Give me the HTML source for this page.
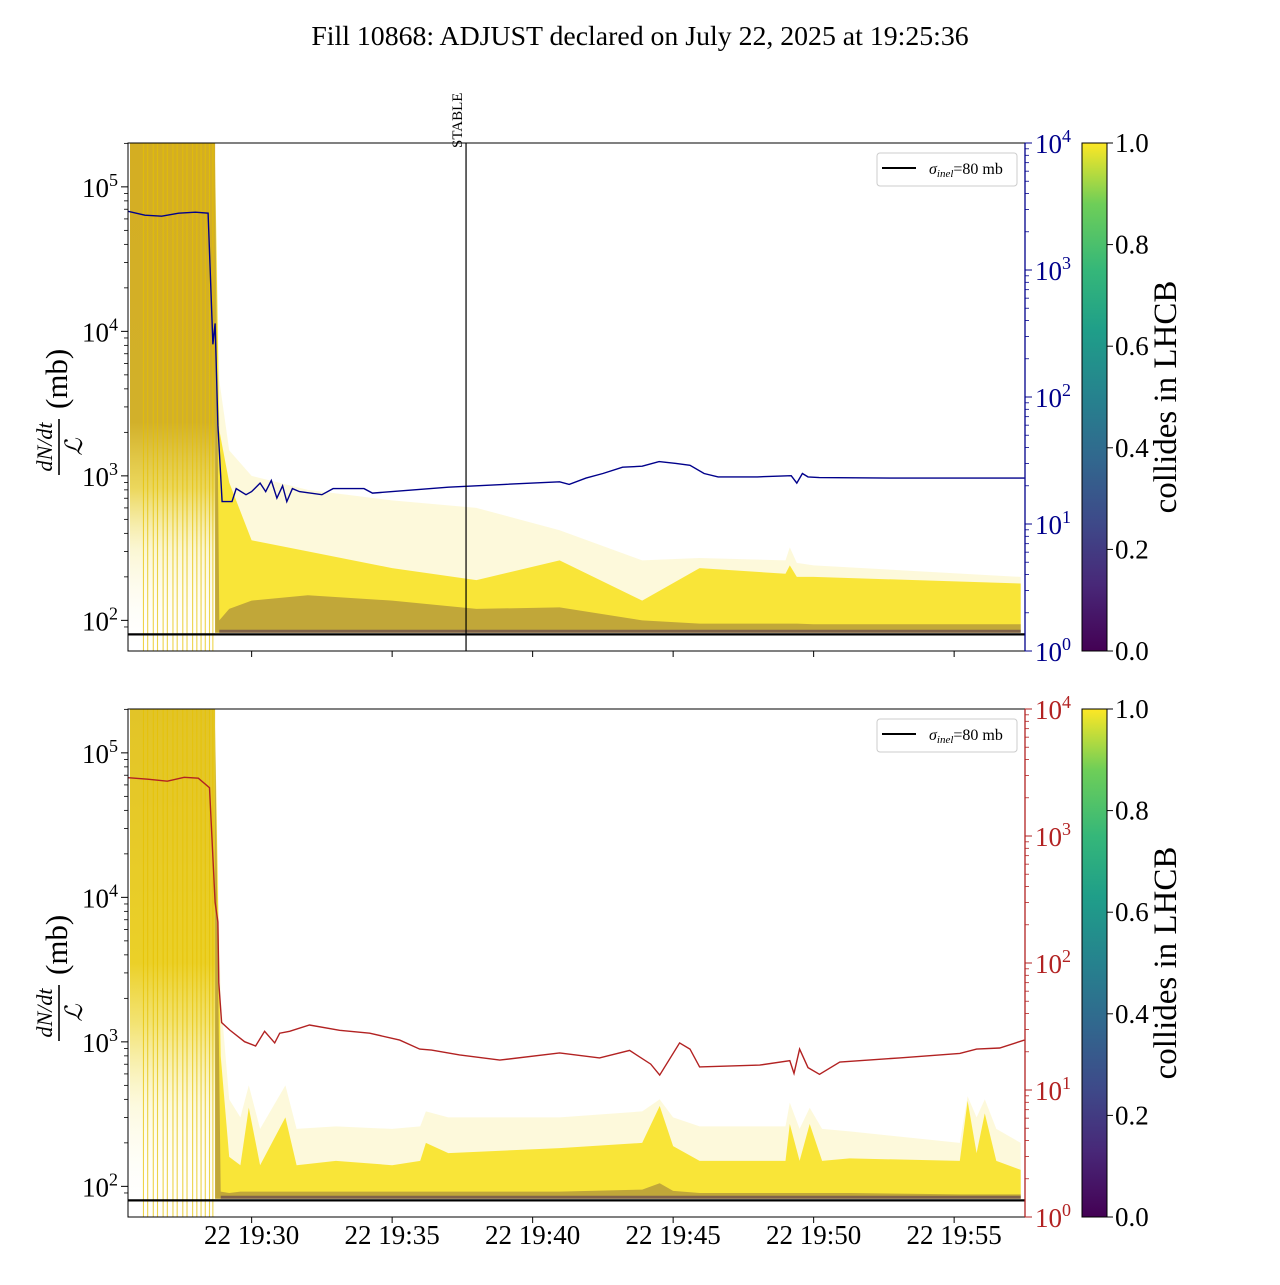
<!DOCTYPE html>
<html><head><meta charset="utf-8"><style>
html,body{margin:0;padding:0;background:#fff}
svg text{font-family:"Liberation Serif",serif}
</style></head><body>
<svg id="chart" width="1280" height="1280" xmlns="http://www.w3.org/2000/svg">
<defs>
<linearGradient id="preTop" x1="0" y1="0" x2="0" y2="1">
<stop offset="0" stop-color="#d4ae22"/><stop offset="0.55" stop-color="#d2b02a"/>
<stop offset="0.68" stop-color="#e8d040" stop-opacity="0.85"/><stop offset="0.8" stop-color="#f3e680" stop-opacity="0.35"/>
<stop offset="1" stop-color="#fff" stop-opacity="0"/></linearGradient>
<linearGradient id="preBot" x1="0" y1="0" x2="0" y2="1">
<stop offset="0" stop-color="#e2c428"/><stop offset="0.5" stop-color="#ebd028"/>
<stop offset="0.62" stop-color="#f0dc50" stop-opacity="0.8"/><stop offset="0.78" stop-color="#f6ec90" stop-opacity="0.3"/>
<stop offset="1" stop-color="#fff" stop-opacity="0"/></linearGradient>
<linearGradient id="viridis" x1="0" y1="1" x2="0" y2="0">
<stop offset="0" stop-color="#440154"/><stop offset="0.13" stop-color="#482878"/><stop offset="0.25" stop-color="#3e4989"/>
<stop offset="0.38" stop-color="#31688e"/><stop offset="0.5" stop-color="#26828e"/><stop offset="0.63" stop-color="#1f9e89"/>
<stop offset="0.75" stop-color="#35b779"/><stop offset="0.88" stop-color="#6ece58"/><stop offset="1" stop-color="#fde725"/></linearGradient>
</defs>
<text x="640" y="45" font-size="27.8" text-anchor="middle">Fill 10868: ADJUST declared on July 22, 2025 at 19:25:36</text>
<g id="p1"></g>
<g id="p2"></g>
</svg>
<script>
// ---- data (time in minutes after 19:00) ----
const blueT=[25.6,26.2,26.8,27.4,28.0,28.45,28.62,28.7,28.8,28.95,29.3,29.45,29.8,30.0,30.3,30.5,30.7,30.9,31.1,31.25,31.45,31.7,32.5,32.9,34.0,34.3,35,37,39,40.96,41.3,41.9,42.5,43.2,43.9,44.5,45.1,45.6,46.1,46.6,48,49.2,49.4,49.6,49.8,50.2,53,57.5];
const blueV=[2900,2700,2650,2800,2850,2800,260,380,60,15,15,19,17,18,21,18,22,16,20,15,19,18,17,19,19,17.5,18,19.5,20.5,21.5,20.5,23,25,28,28.5,31,30,29,25,23.5,23.5,24,21,25,23.5,23.2,23,23];
const redT=[25.6,26.3,27.0,27.6,28.1,28.5,28.7,28.8,28.83,28.93,29.22,29.75,30.14,30.46,30.82,31.0,31.35,32.06,33.13,34.2,35.27,35.98,36.4,37.4,38.83,40.96,42.38,43.45,44.2,44.52,45.23,45.6,45.94,48.08,49.15,49.3,49.5,49.8,50.21,50.93,53.06,55.2,55.8,56.62,57.5];
const redV=[2880,2800,2700,2900,2850,2400,300,210,70,34,29.7,24,22.2,29,23.5,28,29,32.5,29.5,28,24.7,21,20.6,18.9,17.2,19.6,17.9,20.5,16,13.1,23.5,21,15.2,15.7,17,13.5,21,15,13.3,16.6,17.9,19.4,21,21.4,24.7];
// top panel yellow bands (mb)
const b1T=[28.7,28.85,29.2,30,32,35,38,40.96,43.9,45.94,49.0,49.15,49.4,50,57.37];
const b1Faint=[150000,4580,1500,1000,800,676,600,420,260,270,260,320,250,240,200];
const b1Dense=[150000,2065,900,358,300,230,190,260,137,230,210,240,200,200,180];
const b1Dark=[150000,100,120,137,149,137,120,123,100,95,95,95,95,94,94];
// bottom panel yellow bands (mb)
const b2T=[28.7,28.9,29.2,29.6,29.9,30.3,31.2,31.6,33,35,36,36.2,37,40.96,43.9,44.52,45.0,45.94,49.0,49.15,49.5,49.86,50.3,51.28,55.2,55.48,55.8,56.09,56.5,57.37];
const b2Faint=[150000,2000,400,300,500,250,500,250,260,250,260,330,300,300,330,400,300,260,260,380,250,350,250,240,200,420,300,400,250,200];
const b2Dense=[150000,800,160,140,350,140,300,140,150,140,150,200,170,184,200,360,190,150,150,270,150,270,150,156,150,390,170,320,150,130];
const b2Dark=[150000,92,90,92,92,92,92,92,92,92,92,92,92,92,95,105,93,90,90,90,90,90,90,90,88,88,88,88,88,88];
const preLines=[26.15,26.3,26.5,26.65,26.85,27.0,27.2,27.35,27.55,27.7,27.9,28.05,28.2,28.35,28.5,28.62];
const xTicks=[30,35,40,45,50,55];
const xTickLabels=["22 19:30","22 19:35","22 19:40","22 19:45","22 19:50","22 19:55"];
const cbTicks=[0,0.2,0.4,0.6,0.8,1.0];
const cbLabels=["0.0","0.2","0.4","0.6","0.8","1.0"];
const leftDecades=[2,3,4,5];
const rightDecades=[0,1,2,3,4];
const sigma=80, stableT=37.63, preEnd=28.7;

const NS="http://www.w3.org/2000/svg";
const X0=128,X1=1025;
const xs=m=>X0+(m-25.6)*28.1;
function el(p,tag,a){const e=document.createElementNS(NS,tag);for(const k in a)e.setAttribute(k,a[k]);p.appendChild(e);return e;}

function panel(g,top,opt){
  const bot=top+508;
  const yL=v=>top+(5.3035-Math.log10(v))*144.5;
  const yR=v=>bot-127*Math.log10(v);
  const clip=el(g,'clipPath',{id:'c'+top});el(clip,'rect',{x:X0,y:top,width:X1-X0,height:bot-top});
  const pg=el(g,'g',{'clip-path':'url(#c'+top+')'});
  const pre=el(pg,'rect',{x:X0+2,y:top,width:xs(preEnd)-X0-2,height:bot-top,fill:opt.preFill});
  
  
  preLines.forEach(t=>{const l=el(pg,'line',{x1:xs(t),x2:xs(t),y1:top,y2:bot,stroke:'#e6c200','stroke-width':1.1,opacity:0.7});
    
    });
  function band(T,U,lowV,fill,op,name){
    let d='M'+xs(T[0])+','+yL(lowV);
    T.forEach((t,i)=>d+=' L'+xs(t).toFixed(1)+','+yL(U[i]).toFixed(1));
    d+=' L'+xs(T[T.length-1])+','+yL(lowV)+'Z';
    const p=el(pg,'path',{d:d,fill:fill,opacity:op});
    
    
  }
  band(opt.T,opt.faint,82,'#fbf2b0',0.45,'faint-bunch-band');
  band(opt.T,opt.dense,82,'#f8e32a',0.92,'dense-bunch-band');
  band(opt.T,opt.dark,82,'#8a6a3a',0.5,'non-colliding-band');
  // thin dark purple strip near floor
  {let d='M'+xs(opt.T[1])+','+yL(82);
   opt.T.slice(1).forEach(t=>d+=' L'+xs(t).toFixed(1)+','+yL(86).toFixed(1));
   d+=' L'+xs(opt.T[opt.T.length-1])+','+yL(82)+'Z';
   const p=el(pg,'path',{d:d,fill:'#4a2a5a',opacity:0.55});
   
   }
  let d='';opt.sT.forEach((t,i)=>d+=(i?' L':'M')+xs(t).toFixed(1)+','+yR(opt.sV[i]).toFixed(1));
  const s=el(pg,'path',{d:d,fill:'none',stroke:opt.sc,'stroke-width':1.4});
  
  
  const sl=el(pg,'line',{x1:X0,x2:X1,y1:yL(sigma),y2:yL(sigma),stroke:'#000','stroke-width':2.2});
  
  
  if(opt.stable){
    const st=el(g,'line',{x1:xs(stableT),x2:xs(stableT),y1:top,y2:bot,stroke:'#000','stroke-width':1.2});
    
    
    const tx=el(g,'text',{x:0,y:0,'font-size':15,transform:`translate(${xs(stableT)-4},${top+5}) rotate(-90)`});
    tx.textContent='STABLE';
    
    
  }
  el(g,'rect',{x:X0,y:top,width:X1-X0,height:bot-top,fill:'none',stroke:'#000','stroke-width':1});
  el(g,'line',{x1:X1,x2:X1,y1:top,y2:bot,stroke:opt.sc,'stroke-width':1.3});
  leftDecades.forEach(k=>{const y=yL(Math.pow(10,k));
    el(g,'line',{x1:X0-7,x2:X0,y1:y,y2:y,stroke:'#000'});
    const t=el(g,'text',{x:X0-10,y:y+10,'font-size':27,'text-anchor':'end'});
    
    
    t.innerHTML='10<tspan dy="-11" font-size="18">'+k+'</tspan>';
    for(let m=2;m<10;m++){const yy=yL(m*Math.pow(10,k));if(yy>top&&yy<bot)el(g,'line',{x1:X0-4,x2:X0,y1:yy,y2:yy,stroke:'#000','stroke-width':0.8});}
  });
  {const yy=yL(90);el(g,'line',{x1:X0-4,x2:X0,y1:yy,y2:yy,stroke:'#000','stroke-width':0.8});}
  rightDecades.forEach(k=>{const y=yR(Math.pow(10,k));
    el(g,'line',{x1:X1,x2:X1+7,y1:y,y2:y,stroke:opt.sc});
    const t=el(g,'text',{x:X1+10,y:y+10,'font-size':27,fill:opt.sc});
    
    
    t.innerHTML='10<tspan dy="-11" font-size="18">'+k+'</tspan>';
    if(k<4)for(let m=2;m<10;m++){const yy=yR(m*Math.pow(10,k));el(g,'line',{x1:X1,x2:X1+4,y1:yy,y2:yy,stroke:opt.sc,'stroke-width':0.8});}
  });
  xTicks.forEach((m,i)=>{const x=xs(m);el(g,'line',{x1:x,x2:x,y1:bot,y2:bot+6,stroke:'#000'});
    if(opt.labels){const t=el(g,'text',{x:x,y:bot+27,'font-size':27,'text-anchor':'middle'});t.textContent=xTickLabels[i];
      
      }
  });
  const cy=(top+bot)/2+2;
  const yl=el(g,'g',{transform:`translate(64,${cy}) rotate(-90)`});
  
  
  const n=el(yl,'text',{x:-48,y:-12,'font-size':22,'font-style':'italic','text-anchor':'middle'});n.textContent='dN/dt';
  el(yl,'line',{x1:-76,x2:-20,y1:-5,y2:-5,stroke:'#000','stroke-width':1.6});
  const dL=el(yl,'text',{x:-48,y:18,'font-size':24,'font-style':'italic','text-anchor':'middle'});dL.textContent='ℒ';
  const mb=el(yl,'text',{x:-10,y:3,'font-size':31});mb.textContent='(mb)';
  const lg=el(g,'g',{});
  
  
  el(lg,'rect',{x:877,y:top+10,width:140,height:33,rx:3,fill:'#fff',stroke:'#ccc'});
  el(lg,'line',{x1:882,x2:916,y1:top+25,y2:top+25,stroke:'#000','stroke-width':2});
  const lt=el(lg,'text',{x:929,y:top+31,'font-size':16});
  lt.innerHTML='<tspan font-style="italic">σ</tspan><tspan font-size="11" font-style="italic" dy="3">inel</tspan><tspan dy="-3">=80 mb</tspan>';
  const cb=el(g,'rect',{x:1082,y:top,width:25,height:bot-top,fill:'url(#viridis)',stroke:'#000','stroke-width':1});
  
  
  cbTicks.forEach((v,i)=>{const y=bot-v*(bot-top);el(g,'line',{x1:1107,x2:1113,y1:y,y2:y,stroke:'#000'});
    const t=el(g,'text',{x:1115,y:y+9,'font-size':27});t.textContent=cbLabels[i];
    
    });
  const cl=el(g,'text',{x:0,y:0,'font-size':33,'text-anchor':'middle',transform:`translate(1176,${(top+bot)/2}) rotate(-90)`});
  cl.textContent='collides in LHCB';
  
  
}
panel(document.getElementById('p1'),143,{preFill:'url(#preTop)',T:b1T,faint:b1Faint,dense:b1Dense,dark:b1Dark,sT:blueT,sV:blueV,sc:'#00008b',sname:'blue-series-line',stable:true,labels:false});
panel(document.getElementById('p2'),709,{preFill:'url(#preBot)',T:b2T,faint:b2Faint,dense:b2Dense,dark:b2Dark,sT:redT,sV:redV,sc:'#b22222',sname:'red-series-line',stable:false,labels:true});
</script>
</body></html>
